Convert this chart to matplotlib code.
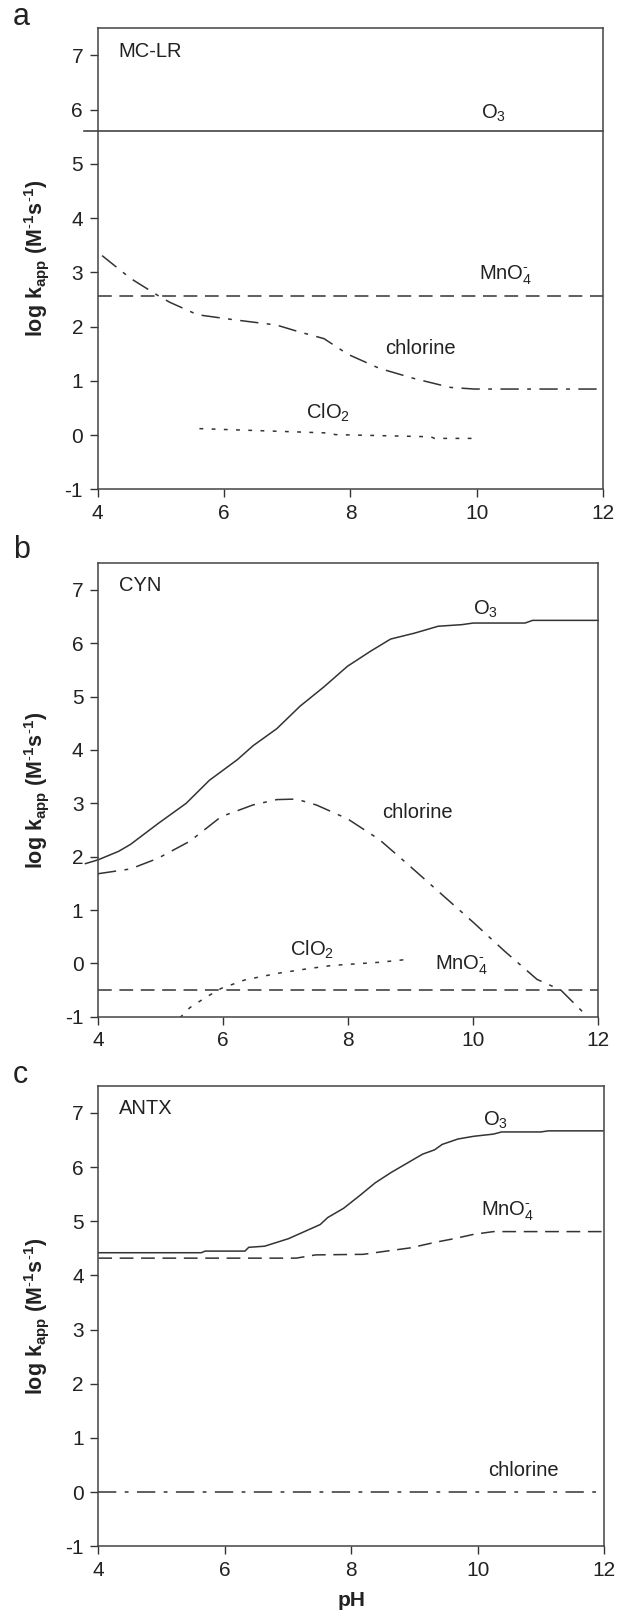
import matplotlib
matplotlib.use("Agg")
import matplotlib.pyplot as plt

plt.rcParams['font.family'] = ['Liberation Sans', 'DejaVu Sans']
plt.rcParams['mathtext.fontset'] = 'custom'
plt.rcParams['mathtext.rm'] = 'Liberation Sans'
plt.rcParams['mathtext.it'] = 'Liberation Sans'
plt.rcParams['mathtext.bf'] = 'Liberation Sans:bold'
plt.rcParams['axes.unicode_minus'] = False

INK = '#333333'
TXT = '#222222'

# ---- panel a : MC-LR ----
a_o3_ph = [3.78, 12.0]
a_o3 = [5.60, 5.60]
a_mno4_ph = [4.0, 12.0]
a_mno4 = [2.56, 2.56]
a_cl_ph = [4.07, 4.52, 4.96, 5.14, 5.58, 6.14, 6.83, 7.20, 7.58, 7.96, 8.46, 9.02, 9.58, 9.96, 12.0]
a_cl = [3.31, 2.89, 2.57, 2.45, 2.22, 2.13, 2.03, 1.90, 1.78, 1.49, 1.23, 1.04, 0.88, 0.85, 0.85]
a_clo2_ph = [5.61, 7.64, 7.76, 9.27, 9.33, 10.02]
a_clo2 = [0.12, 0.04, 0.01, -0.03, -0.06, -0.06]

# ---- panel b : CYN ----
b_o3_ph = [3.80, 4.00, 4.33, 4.52, 4.96, 5.41, 5.78, 6.23, 6.48, 6.86, 7.23, 7.61, 7.99,
           8.37, 8.68, 9.06, 9.44, 9.82, 10.0, 10.83, 10.95, 12.0]
b_o3 = [1.87, 1.94, 2.10, 2.23, 2.62, 3.00, 3.43, 3.82, 4.08, 4.40, 4.82, 5.18, 5.57,
        5.86, 6.08, 6.19, 6.32, 6.35, 6.38, 6.38, 6.43, 6.43]
b_cl_ph = [4.0, 4.52, 4.96, 5.47, 5.97, 6.48, 6.86, 7.17, 7.49, 7.99, 8.5, 9.0, 9.5,
           10.0, 10.51, 11.02, 11.40, 11.76]
b_cl = [1.68, 1.77, 1.97, 2.29, 2.75, 2.97, 3.07, 3.08, 2.97, 2.71, 2.32, 1.81, 1.29,
        0.77, 0.22, -0.30, -0.50, -0.92]
b_clo2_ph = [5.31, 5.47, 5.72, 5.97, 6.35, 6.86, 7.36, 7.74, 8.12, 8.5, 9.0]
b_clo2 = [-1.02, -0.83, -0.64, -0.47, -0.31, -0.19, -0.10, -0.04, -0.01, 0.02, 0.08]
b_mno4_ph = [4.0, 12.0]
b_mno4 = [-0.5, -0.5]

# ---- panel c : ANTX ----
c_o3_ph = [4.0, 5.63, 5.69, 6.32, 6.38, 6.63, 7.01, 7.26, 7.51, 7.63, 7.88, 8.13, 8.38,
           8.63, 8.88, 9.13, 9.32, 9.44, 9.69, 9.94, 10.25, 10.38, 11.0, 11.12, 12.0]
c_o3 = [4.42, 4.42, 4.45, 4.45, 4.52, 4.54, 4.68, 4.81, 4.94, 5.07, 5.24, 5.47, 5.71,
        5.90, 6.07, 6.24, 6.32, 6.42, 6.52, 6.57, 6.61, 6.65, 6.65, 6.67, 6.67]
c_mno4_ph = [4.0, 7.13, 7.44, 8.19, 8.56, 8.94, 9.32, 9.63, 9.94, 10.25, 12.0]
c_mno4 = [4.32, 4.32, 4.38, 4.39, 4.45, 4.51, 4.61, 4.68, 4.76, 4.81, 4.81]
c_cl_ph = [4.0, 12.0]
c_cl = [0.0, 0.0]

SOLID = dict(ls='-')
DASH = dict(dashes=(9, 5))
DASHDOT = dict(dashes=(12, 5.5, 2.5, 5.5))
DOT = dict(dashes=(2.5, 5.5))

fig = plt.figure(figsize=(6.19, 16.21), dpi=100)
boxes = [
    [0.1578, 0.6981, 0.8168, 0.2844],
    [0.1583, 0.3728, 0.8082, 0.2797],
    [0.1588, 0.0461, 0.8170, 0.2840],
]
letter_y = [17, 550, 1075]

# hyphen (not minus) in the superscripts
ylab = r'$\mathbf{log\ k_{app}\ (M^{\text{-}1}s^{\text{-}1})}$'
MNO4 = r'MnO$_4^{\text{-}}$'


def setup(ax, name):
    ax.set_xlim(4, 12)
    ax.set_ylim(-1, 7.5)
    ax.set_xticks([4, 6, 8, 10, 12])
    ax.set_yticks(range(-1, 8))
    ax.tick_params(direction='out', length=5.5, width=1, colors=INK,
                   labelcolor=TXT, labelsize=15, pad=5)
    for s in ax.spines.values():
        s.set_color('#444444')
        s.set_linewidth(1.1)
    ax.set_ylabel(ylab, fontsize=15.5, color=TXT, labelpad=10)
    ax.text(4.33, 7.08, name, fontsize=14.5, va='center', color=TXT)


def line(ax, x, y, style, clip=True):
    ax.plot(x, y, color=INK, lw=1.1, clip_on=clip, **style)


def lab(ax, x, y, s):
    ax.text(x, y, s, fontsize=14.5, ha='center', va='center', color=TXT)


for letter, ly in zip('abc', letter_y):
    fig.text(0.021, 1 - ly / 1621, letter, fontsize=22, va='center', color=TXT)

# a
ax = fig.add_axes(boxes[0])
setup(ax, 'MC-LR')
line(ax, a_o3_ph, a_o3, SOLID, clip=False)
line(ax, a_mno4_ph, a_mno4, DASH)
line(ax, a_cl_ph, a_cl, DASHDOT)
line(ax, a_clo2_ph, a_clo2, DOT)
lab(ax, 10.27, 5.93, r'O$_3$')
lab(ax, 10.45, 2.95, MNO4)
lab(ax, 9.1, 1.6, 'chlorine')
lab(ax, 7.64, 0.42, r'ClO$_2$')

# b
ax = fig.add_axes(boxes[1])
setup(ax, 'CYN')
line(ax, b_o3_ph, b_o3, SOLID, clip=False)
line(ax, b_cl_ph, b_cl, DASHDOT)
line(ax, b_clo2_ph, b_clo2, DOT)
line(ax, b_mno4_ph, b_mno4, DASH)
lab(ax, 10.2, 6.63, r'O$_3$')
lab(ax, 9.11, 2.83, 'chlorine')
lab(ax, 7.42, 0.26, r'ClO$_2$')
lab(ax, 9.82, -0.04, MNO4)

# c
ax = fig.add_axes(boxes[2])
setup(ax, 'ANTX')
line(ax, c_o3_ph, c_o3, SOLID)
line(ax, c_mno4_ph, c_mno4, DASH)
line(ax, c_cl_ph, c_cl, DASHDOT)
lab(ax, 10.28, 6.87, r'O$_3$')
lab(ax, 10.47, 5.18, MNO4)
lab(ax, 10.73, 0.39, 'chlorine')
ax.set_xlabel('pH', fontsize=15, fontweight='bold', color=TXT, labelpad=8)

fig.savefig('out.png', dpi=100)
